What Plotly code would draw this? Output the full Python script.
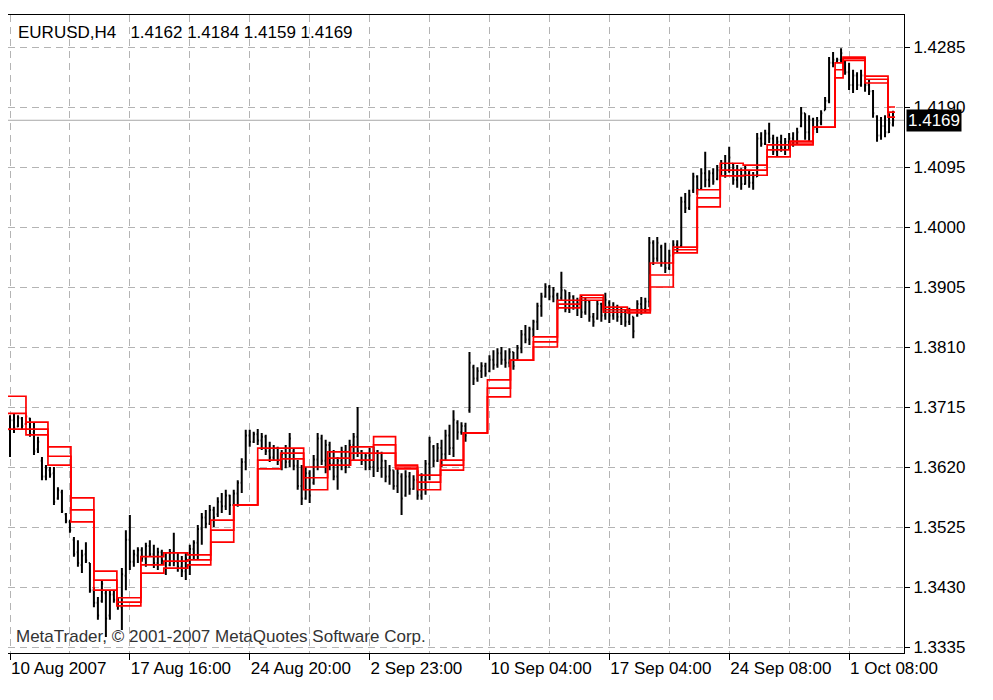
import plotly.graph_objects as go

# ---------------- data (EURUSD, H4) ----------------
bar_index = list(range(222))

opens = [
    1.3679, 1.3694, 1.3684, 1.3697, 1.3688, 1.3697, 1.3675, 1.3648, 1.3630, 1.3605,
    1.3615, 1.3610, 1.3570, 1.3580, 1.3545, 1.3533, 1.3505, 1.3485, 1.3465, 1.3482,
    1.3468, 1.3425, 1.3405, 1.3408, 1.3420, 1.3385, 1.3418, 1.3408, 1.3398, 1.3448,
    1.3505, 1.3470, 1.3480, 1.3488, 1.3475, 1.3495, 1.3482, 1.3468, 1.3485, 1.3472,
    1.3465, 1.3485, 1.3470, 1.3462, 1.3455, 1.3475, 1.3490, 1.3500, 1.3522, 1.3540,
    1.3530, 1.3552, 1.3545, 1.3565, 1.3558, 1.3575, 1.3560, 1.3578, 1.3595, 1.3628,
    1.3670, 1.3660, 1.3672, 1.3662, 1.3668, 1.3645, 1.3635, 1.3650, 1.3630, 1.3640,
    1.3628, 1.3645, 1.3622, 1.3590, 1.3570, 1.3610, 1.3595, 1.3632, 1.3665, 1.3630,
    1.3655, 1.3625, 1.3605, 1.3630, 1.3645, 1.3620, 1.3655, 1.3668, 1.3645, 1.3630,
    1.3638, 1.3620, 1.3645, 1.3618, 1.3630, 1.3605, 1.3615, 1.3590, 1.3605, 1.3575,
    1.3605, 1.3585, 1.3600, 1.3575, 1.3600, 1.3625, 1.3652, 1.3630, 1.3650, 1.3640,
    1.3670, 1.3650, 1.3690, 1.3675, 1.3685, 1.3710, 1.3778, 1.3760, 1.3772, 1.3780,
    1.3772, 1.3790, 1.3782, 1.3800, 1.3790, 1.3785, 1.3802, 1.3790, 1.3808, 1.3830,
    1.3822, 1.3838, 1.3850, 1.3875, 1.3890, 1.3905, 1.3890, 1.3892, 1.3888, 1.3900,
    1.3870, 1.3890, 1.3875, 1.3880, 1.3865, 1.3882, 1.3858, 1.3855, 1.3878, 1.3860,
    1.3880, 1.3860, 1.3872, 1.3858, 1.3865, 1.3850, 1.3858, 1.3860, 1.3878, 1.3870,
    1.3882, 1.3975, 1.3950, 1.3968, 1.3945, 1.3935, 1.3955, 1.3972, 1.3970, 1.4040,
    1.4030, 1.4058, 1.4080, 1.4060, 1.4085, 1.4075, 1.4085, 1.4076, 1.4090, 1.4100,
    1.4090, 1.4100, 1.4075, 1.4090, 1.4068, 1.4085, 1.4070, 1.4080, 1.4140, 1.4132,
    1.4148, 1.4140, 1.4120, 1.4135, 1.4125, 1.4135, 1.4140, 1.4135, 1.4160, 1.4180,
    1.4150, 1.4170, 1.4155, 1.4165, 1.4185, 1.4200, 1.4260, 1.4262, 1.4265, 1.4262,
    1.4245, 1.4225, 1.4240, 1.4225, 1.4240, 1.4225, 1.4215, 1.4175, 1.4145, 1.4160,
    1.4150, 1.4162,
]

highs = [
    1.3702, 1.3705, 1.3702, 1.3699, 1.3702, 1.3698, 1.3691, 1.3668, 1.3636, 1.3623,
    1.3620, 1.3620, 1.3588, 1.3584, 1.3547, 1.3536, 1.3509, 1.3504, 1.3489, 1.3501,
    1.3468, 1.3430, 1.3414, 1.3441, 1.3425, 1.3425, 1.3425, 1.3414, 1.3460, 1.3520,
    1.3544, 1.3489, 1.3493, 1.3493, 1.3500, 1.3504, 1.3497, 1.3492, 1.3489, 1.3485,
    1.3490, 1.3516, 1.3485, 1.3479, 1.3484, 1.3497, 1.3504, 1.3528, 1.3547, 1.3552,
    1.3560, 1.3557, 1.3572, 1.3579, 1.3584, 1.3576, 1.3584, 1.3599, 1.3634, 1.3679,
    1.3679, 1.3676, 1.3680, 1.3674, 1.3671, 1.3660, 1.3655, 1.3652, 1.3647, 1.3655,
    1.3674, 1.3650, 1.3631, 1.3623, 1.3620, 1.3615, 1.3639, 1.3674, 1.3671, 1.3663,
    1.3660, 1.3647, 1.3636, 1.3652, 1.3655, 1.3663, 1.3674, 1.3715, 1.3647, 1.3642,
    1.3650, 1.3652, 1.3647, 1.3644, 1.3631, 1.3623, 1.3615, 1.3618, 1.3610, 1.3615,
    1.3612, 1.3607, 1.3615, 1.3610, 1.3631, 1.3668, 1.3655, 1.3658, 1.3663, 1.3679,
    1.3687, 1.3710, 1.3694, 1.3691, 1.3690, 1.3802, 1.3782, 1.3778, 1.3786, 1.3785,
    1.3797, 1.3805, 1.3808, 1.3810, 1.3805, 1.3808, 1.3802, 1.3813, 1.3837, 1.3845,
    1.3842, 1.3853, 1.3880, 1.3896, 1.3911, 1.3908, 1.3905, 1.3896, 1.3929, 1.3900,
    1.3897, 1.3892, 1.3888, 1.3892, 1.3889, 1.3884, 1.3864, 1.3884, 1.3880, 1.3896,
    1.3884, 1.3881, 1.3877, 1.3873, 1.3869, 1.3872, 1.3858, 1.3884, 1.3889, 1.3888,
    1.3984, 1.3979, 1.3984, 1.3972, 1.3975, 1.3964, 1.3979, 1.3979, 1.4048, 1.4054,
    1.4059, 1.4086, 1.4082, 1.4093, 1.4119, 1.4090, 1.4093, 1.4098, 1.4106, 1.4114,
    1.4127, 1.4101, 1.4098, 1.4093, 1.4098, 1.4090, 1.4087, 1.4149, 1.4150, 1.4154,
    1.4165, 1.4146, 1.4143, 1.4146, 1.4141, 1.4149, 1.4150, 1.4157, 1.4190, 1.4180,
    1.4177, 1.4173, 1.4174, 1.4185, 1.4206, 1.4269, 1.4277, 1.4268, 1.4283, 1.4264,
    1.4260, 1.4249, 1.4245, 1.4249, 1.4241, 1.4233, 1.4217, 1.4177, 1.4174, 1.4177,
    1.4180, 1.4184,
]

lows = [
    1.3636, 1.3674, 1.3683, 1.3679, 1.3687, 1.3668, 1.3639, 1.3642, 1.3599, 1.3599,
    1.3603, 1.3560, 1.3568, 1.3547, 1.3531, 1.3516, 1.3478, 1.3462, 1.3452, 1.3468,
    1.3421, 1.3398, 1.3378, 1.3405, 1.3351, 1.3378, 1.3405, 1.3394, 1.3362, 1.3425,
    1.3457, 1.3462, 1.3468, 1.3470, 1.3462, 1.3478, 1.3460, 1.3457, 1.3465, 1.3449,
    1.3463, 1.3463, 1.3454, 1.3446, 1.3441, 1.3449, 1.3473, 1.3473, 1.3497, 1.3523,
    1.3528, 1.3525, 1.3541, 1.3547, 1.3552, 1.3544, 1.3560, 1.3557, 1.3579, 1.3615,
    1.3652, 1.3658, 1.3655, 1.3647, 1.3639, 1.3628, 1.3631, 1.3623, 1.3615, 1.3618,
    1.3620, 1.3615, 1.3584, 1.3560, 1.3568, 1.3563, 1.3592, 1.3615, 1.3623, 1.3610,
    1.3615, 1.3599, 1.3584, 1.3615, 1.3610, 1.3623, 1.3631, 1.3636, 1.3623, 1.3615,
    1.3615, 1.3604, 1.3612, 1.3603, 1.3596, 1.3592, 1.3584, 1.3579, 1.3544, 1.3573,
    1.3576, 1.3584, 1.3568, 1.3568, 1.3576, 1.3599, 1.3620, 1.3628, 1.3620, 1.3631,
    1.3639, 1.3636, 1.3663, 1.3671, 1.3660, 1.3706, 1.3750, 1.3755, 1.3761, 1.3763,
    1.3770, 1.3774, 1.3777, 1.3782, 1.3777, 1.3778, 1.3774, 1.3789, 1.3800, 1.3816,
    1.3813, 1.3826, 1.3837, 1.3858, 1.3888, 1.3884, 1.3881, 1.3869, 1.3884, 1.3865,
    1.3864, 1.3869, 1.3859, 1.3856, 1.3861, 1.3850, 1.3842, 1.3853, 1.3850, 1.3853,
    1.3848, 1.3853, 1.3850, 1.3845, 1.3842, 1.3845, 1.3824, 1.3858, 1.3861, 1.3865,
    1.3873, 1.3940, 1.3945, 1.3937, 1.3927, 1.3932, 1.3956, 1.3960, 1.3968, 1.4022,
    1.4027, 1.4054, 1.4051, 1.4059, 1.4063, 1.4063, 1.4067, 1.4074, 1.4082, 1.4078,
    1.4086, 1.4067, 1.4062, 1.4059, 1.4067, 1.4062, 1.4059, 1.4079, 1.4127, 1.4130,
    1.4133, 1.4114, 1.4111, 1.4119, 1.4114, 1.4122, 1.4127, 1.4130, 1.4158, 1.4138,
    1.4135, 1.4146, 1.4149, 1.4161, 1.4185, 1.4196, 1.4253, 1.4260, 1.4261, 1.4241,
    1.4217, 1.4212, 1.4217, 1.4222, 1.4214, 1.4209, 1.4173, 1.4135, 1.4138, 1.4142,
    1.4149, 1.4159,
]

closes = [
    1.3694, 1.3682, 1.3698, 1.3685, 1.3700, 1.3672, 1.3645, 1.3660, 1.3605, 1.3618,
    1.3608, 1.3565, 1.3583, 1.3550, 1.3535, 1.3520, 1.3482, 1.3468, 1.3480, 1.3472,
    1.3425, 1.3405, 1.3385, 1.3435, 1.3380, 1.3418, 1.3410, 1.3400, 1.3450, 1.3505,
    1.3470, 1.3482, 1.3488, 1.3475, 1.3495, 1.3482, 1.3468, 1.3485, 1.3472, 1.3460,
    1.3485, 1.3470, 1.3462, 1.3455, 1.3475, 1.3490, 1.3500, 1.3522, 1.3540, 1.3530,
    1.3552, 1.3540, 1.3565, 1.3558, 1.3575, 1.3560, 1.3578, 1.3595, 1.3628, 1.3670,
    1.3660, 1.3672, 1.3662, 1.3668, 1.3645, 1.3635, 1.3650, 1.3630, 1.3640, 1.3628,
    1.3665, 1.3622, 1.3590, 1.3570, 1.3610, 1.3575, 1.3632, 1.3665, 1.3630, 1.3655,
    1.3625, 1.3605, 1.3630, 1.3645, 1.3620, 1.3655, 1.3668, 1.3645, 1.3630, 1.3638,
    1.3620, 1.3645, 1.3618, 1.3630, 1.3605, 1.3615, 1.3590, 1.3610, 1.3570, 1.3605,
    1.3585, 1.3600, 1.3575, 1.3605, 1.3625, 1.3660, 1.3630, 1.3650, 1.3640, 1.3670,
    1.3650, 1.3695, 1.3675, 1.3685, 1.3670, 1.3785, 1.3760, 1.3772, 1.3780, 1.3768,
    1.3790, 1.3782, 1.3800, 1.3790, 1.3785, 1.3802, 1.3780, 1.3808, 1.3830, 1.3822,
    1.3838, 1.3850, 1.3875, 1.3890, 1.3905, 1.3890, 1.3900, 1.3875, 1.3900, 1.3870,
    1.3890, 1.3875, 1.3880, 1.3865, 1.3882, 1.3858, 1.3850, 1.3878, 1.3860, 1.3885,
    1.3860, 1.3872, 1.3858, 1.3865, 1.3850, 1.3862, 1.3835, 1.3878, 1.3870, 1.3882,
    1.3975, 1.3950, 1.3975, 1.3945, 1.3935, 1.3955, 1.3972, 1.3965, 1.4040, 1.4030,
    1.4050, 1.4080, 1.4060, 1.4085, 1.4075, 1.4085, 1.4072, 1.4090, 1.4100, 1.4085,
    1.4110, 1.4075, 1.4090, 1.4068, 1.4085, 1.4070, 1.4080, 1.4140, 1.4132, 1.4148,
    1.4140, 1.4120, 1.4135, 1.4125, 1.4135, 1.4140, 1.4135, 1.4150, 1.4180, 1.4150,
    1.4170, 1.4155, 1.4168, 1.4180, 1.4200, 1.4260, 1.4265, 1.4265, 1.4275, 1.4245,
    1.4225, 1.4240, 1.4225, 1.4240, 1.4225, 1.4215, 1.4180, 1.4145, 1.4160, 1.4150,
    1.4165, 1.4169,
]

# stepped red indicator lines (value holds from each step_x until the next one)
step_x = [-0.5, 4, 9.5, 15.25, 21, 26.75, 32.75, 38.5, 44.5, 50.25, 56, 62, 67.75,
          73.5, 79.5, 85.25, 91, 96.5, 102, 107.75, 113.5, 119.5, 125.25, 131, 137,
          142.75, 148.5, 154.5, 160.25, 166, 172, 177.75, 183.5, 189.5, 195.25, 201,
          206.5, 208.5, 214, 219.75, 221.5]
upper = [1.3732, 1.3691, 1.3652, 1.3571, 1.3455, 1.3413, 1.3478, 1.3484, 1.3481,
         1.3536, 1.3560, 1.3650, 1.3650, 1.3620, 1.3644, 1.3652, 1.3668, 1.3623,
         1.3607, 1.3631, 1.3674, 1.3758, 1.3789, 1.3826, 1.3884, 1.3892, 1.3873,
         1.3869, 1.3943, 1.3968, 1.4059, 1.4101, 1.4098, 1.4130, 1.4136, 1.4158,
         1.4260, 1.4269, 1.4239, 1.4190, 1.4190]
middle = [1.3705, 1.3680, 1.3637, 1.3552, 1.3441, 1.3406, 1.3465, 1.3471, 1.3473,
          1.3520, 1.3560, 1.3631, 1.3642, 1.3603, 1.3634, 1.3642, 1.3655, 1.3620,
          1.3596, 1.3623, 1.3674, 1.3745, 1.3789, 1.3818, 1.3878, 1.3888, 1.3869,
          1.3867, 1.3924, 1.3964, 1.4046, 1.4090, 1.4090, 1.4122, 1.4133, 1.4158,
          1.4249, 1.4267, 1.4234, 1.4182, 1.4182]
lower = [1.3680, 1.3671, 1.3623, 1.3533, 1.3425, 1.3400, 1.3452, 1.3460, 1.3465,
         1.3501, 1.3560, 1.3617, 1.3633, 1.3584, 1.3623, 1.3631, 1.3642, 1.3617,
         1.3584, 1.3615, 1.3674, 1.3731, 1.3789, 1.3810, 1.3872, 1.3884, 1.3865,
         1.3864, 1.3905, 1.3959, 1.4032, 1.4081, 1.4082, 1.4111, 1.4130, 1.4158,
         1.4236, 1.4264, 1.4228, 1.4174, 1.4174]

y_ticks = [1.3335, 1.3430, 1.3525, 1.3620, 1.3715, 1.3810, 1.3905, 1.4000,
           1.4095, 1.4190, 1.4285]
x_tick_pos = [0, 30, 60, 90, 120, 150, 180, 210]
x_tick_labels = ["10 Aug 2007", "17 Aug 16:00", "24 Aug 20:00", "2 Sep 23:00",
                 "10 Sep 04:00", "17 Sep 04:00", "24 Sep 08:00", "1 Oct 08:00"]

symbol = "EURUSD,H4"
copyright_text = "MetaTrader, \u00a9 2001-2007 MetaQuotes Software Corp."

# ---------------- figure ----------------
FONT = "Liberation Sans, Arial, sans-serif"
GRID = "#b4b4b4"

fig = go.Figure()
fig.add_trace(go.Ohlc(
    x=bar_index, open=opens, high=highs, low=lows, close=closes,
    increasing=dict(line=dict(color="black", width=2)),
    decreasing=dict(line=dict(color="black", width=2)),
    tickwidth=0.3, showlegend=False, hoverinfo="skip",
))
for ys in (upper, middle, lower):
    fig.add_trace(go.Scatter(
        x=step_x, y=ys, mode="lines",
        line=dict(color="#ff0000", width=1.7, shape="hv"),
        showlegend=False, hoverinfo="skip",
    ))

last_close = closes[-1]
fig.add_shape(type="line", xref="x domain", yref="y", x0=0, x1=1,
              y0=last_close, y1=last_close,
              line=dict(color="#a8a8a8", width=1), layer="below")

# the page body adds an 8px offset, so the figure is sized/margined to compensate
fig.update_layout(
    width=985, height=692,
    margin=dict(l=0, r=89, t=7, b=47),
    paper_bgcolor="white", plot_bgcolor="white",
    showlegend=False,
    font=dict(family=FONT, size=17, color="black"),
    xaxis=dict(
        range=[-0.5, 223.75], rangeslider=dict(visible=False),
        tickmode="array", tickvals=x_tick_pos, ticktext=x_tick_labels,
        ticks="outside", ticklen=6, tickwidth=1, tickcolor="black",
        ticklabelposition="outside right",
        showgrid=True, gridcolor=GRID, gridwidth=1, griddash="7px,5px",
        minor=dict(tick0=0, dtick=15, showgrid=True, gridcolor=GRID,
                   gridwidth=1, griddash="7px,5px", ticks=""),
        showline=True, linecolor="black", linewidth=1, mirror=True,
        zeroline=False, tickfont=dict(family=FONT, size=17, color="black"),
    ),
    yaxis=dict(
        side="right", range=[1.33255, 1.43357],
        tickmode="array", tickvals=y_ticks,
        ticktext=[f"{v:.4f}" for v in y_ticks],
        ticks="outside", ticklen=5, tickwidth=1, tickcolor="black",
        showgrid=True, gridcolor=GRID, gridwidth=1, griddash="7px,5px",
        showline=True, linecolor="black", linewidth=1, mirror=True,
        zeroline=False, tickfont=dict(family=FONT, size=17, color="black"),
    ),
)

title_text = (f"{symbol}\u00a0\u00a0\u00a0{opens[-1]:.4f} {highs[-1]:.4f} "
              f"{lows[-1]:.4f} {closes[-1]:.4f}")
fig.add_annotation(text=title_text, xref="paper", yref="paper", x=0, y=1,
                   xanchor="left", yanchor="top", xshift=8, yshift=-6,
                   showarrow=False, font=dict(family=FONT, size=17, color="black"))
fig.add_annotation(text=copyright_text, xref="paper", yref="paper", x=0, y=0,
                   xanchor="left", yanchor="bottom", xshift=6, yshift=5,
                   showarrow=False, font=dict(family=FONT, size=17, color="#333333"))
fig.add_annotation(text=f"{last_close:.4f}", xref="paper", yref="y", x=1,
                   y=last_close, xanchor="left", yanchor="middle", xshift=2,
                   showarrow=False, bgcolor="black", borderpad=1,
                   font=dict(family=FONT, size=17, color="white"))

fig.write_html("out.html")
